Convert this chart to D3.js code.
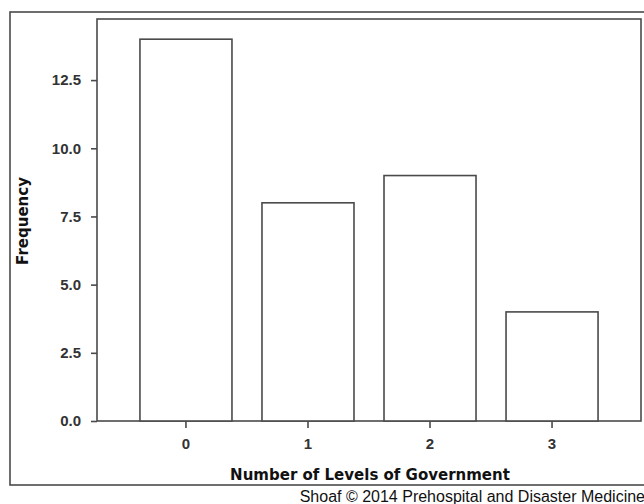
<!DOCTYPE html>
<html><head><meta charset="utf-8">
<script src="https://cdn.jsdelivr.net/npm/d3@7"></script>
<style>body{margin:0;background:#fff}svg{display:block}</style>
</head><body>
<svg id="c" width="644" height="504"></svg>
<script>
const categories = ["0","1","2","3"];
const frequency = [14, 8, 9, 4];
const yTicks = [0, 2.5, 5, 7.5, 10, 12.5];

const svg = d3.select("#c");
const L = 97, R = 641, T = 19, B = 421;
const stroke = "#4a4a4a";

// outer frame
svg.append("rect").attr("x",10).attr("y",12).attr("width",640).attr("height",473)
  .attr("fill","none").attr("stroke",stroke).attr("stroke-width",1.6);

const x = d3.scaleBand().domain(categories).range([L,R]).paddingInner(0.246).paddingOuter(0.352);
const y = d3.scaleLinear().domain([0,14.74]).range([B,T]);

// plot frame
svg.append("rect").attr("x",L).attr("y",T).attr("width",R-L).attr("height",B-T)
  .attr("fill","none").attr("stroke",stroke).attr("stroke-width",1.6);

// bars
svg.selectAll("rect.bar").data(frequency).enter().append("rect").attr("class","bar")
  .attr("x",(d,i)=>x(categories[i])).attr("width",x.bandwidth())
  .attr("y",d=>y(d)).attr("height",d=>B-y(d))
  .attr("fill","#fff").attr("stroke",stroke).attr("stroke-width",1.6);

const bfont = "'DejaVu Sans', Verdana, sans-serif";
const font = "Arial, 'Liberation Sans', sans-serif";

// y axis
const ya = svg.append("g").attr("transform",`translate(${L},0)`)
  .call(d3.axisLeft(y).tickValues(yTicks).tickFormat(d3.format(".1f")).tickSize(6).tickPadding(10));
ya.select(".domain").remove();
ya.selectAll("line").attr("stroke",stroke).attr("stroke-width",1.6);
ya.selectAll("text").attr("font-family",font).attr("font-size","15px").attr("font-weight","bold").attr("fill","#333");

// x axis
const xa = svg.append("g").attr("transform",`translate(0,${B})`)
  .call(d3.axisBottom(x).tickSize(7).tickPadding(10));
xa.select(".domain").remove();
xa.selectAll("line").attr("stroke",stroke).attr("stroke-width",1.6);
xa.selectAll("text").attr("font-family",font).attr("font-size","15px").attr("font-weight","bold").attr("fill","#333");

// titles
svg.append("text").attr("x",370).attr("y",480).attr("text-anchor","middle")
  .attr("font-family",bfont).attr("font-size","15px").attr("font-weight","bold").attr("fill","#111")
  .text("Number of Levels of Government");
svg.append("text").attr("transform","translate(28,221) rotate(-90)").attr("text-anchor","middle")
  .attr("font-family",bfont).attr("font-size","15px").attr("font-weight","bold").attr("fill","#111")
  .text("Frequency");
svg.append("text").attr("x",645).attr("y",502).attr("text-anchor","end")
  .attr("font-family",font).attr("font-size","16px").attr("fill","#111")
  .text("Shoaf © 2014 Prehospital and Disaster Medicine");
</script>
</body></html>
